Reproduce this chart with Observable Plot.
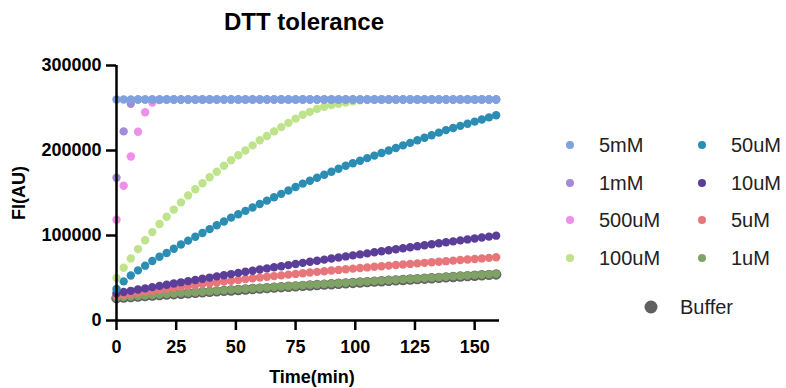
<!DOCTYPE html>
<html>
<head>
<meta charset="utf-8">
<script src="https://cdn.jsdelivr.net/npm/d3@7"></script>
<script src="https://cdn.jsdelivr.net/npm/@observablehq/plot@0.6"></script>
<style>
  html, body { margin: 0; padding: 0; background: #fff; }
  #wrap { position: relative; width: 786px; height: 388px; overflow: hidden; font-family: "Liberation Sans", Arial, sans-serif; }
  .lg { position: absolute; font-size: 20px; color: #222; line-height: 22px; transform: translateY(-50%); white-space: nowrap; }
  .ld { position: absolute; border-radius: 50%; transform: translate(-50%, -50%); }
</style>
</head>
<body>
<div id="wrap"></div>
<script>
const time = [0,3,6,9,12,15,18,21,24,27,30,33,36,39,42,45,48,51,54,57,60,63,66,69,72,75,78,81,84,87,90,93,96,99,102,105,108,111,114,117,120,123,126,129,132,135,138,141,144,147,150,153,156,159];

const s5mM = [260000,260000,260000,260000,260000,260000,260000,260000,260000,260000,260000,260000,260000,260000,260000,260000,260000,260000,260000,260000,260000,260000,260000,260000,260000,260000,260000,260000,260000,260000,260000,260000,260000,260000,260000,260000,260000,260000,260000,260000,260000,260000,260000,260000,260000,260000,260000,260000,260000,260000,260000,260000,260000,260000];
const s1mM = [168000,222500,255000,260000,260000,260000,260000,260000,260000,260000,260000,260000,260000,260000,260000,260000,260000,260000,260000,260000,260000,260000,260000,260000,260000,260000,260000,260000,260000,260000,260000,260000,260000,260000,260000,260000,260000,260000,260000,260000,260000,260000,260000,260000,260000,260000,260000,260000,260000,260000,260000,260000,260000,260000];
const s500uM = [118500,158500,193000,222000,245000,256500,259500,260000,260000,260000,260000,260000,260000,260000,260000,260000,260000,260000,260000,260000,260000,260000,260000,260000,260000,260000,260000,260000,260000,260000,260000,260000,260000,260000,260000,260000,260000,260000,260000,260000,260000,260000,260000,260000,260000,260000,260000,260000,260000,260000,260000,260000,260000,260000];
const s100uM = [50000,62000,73000,84000,94500,104000,113500,122000,130500,139000,147000,154500,161500,168500,175000,182000,188500,194500,200000,206000,212000,217000,222500,227500,232500,237500,242000,245500,249000,251500,253500,255000,256500,258000,259000,260000,260000,260000,260000,260000,260000,260000,260000,260000,260000,260000,260000,260000,260000,260000,260000,260000,260000,260000];
const s50uM = [37000,46000,53000,59000,64500,70000,75000,79500,84500,89500,94000,98500,103000,107500,112000,116500,121000,125000,129000,133000,137000,141000,145000,149000,153000,157000,161000,164500,168000,171500,175000,178500,182000,185000,188000,191000,194000,197000,200000,203000,206000,209000,212000,215000,218000,221000,224000,226500,229000,231500,234000,236500,239000,241500];
const s10uM = [32000,33500,34900,36400,37800,39300,40700,42100,43500,44900,46300,47700,49100,50500,51900,53200,54600,56000,57300,58600,60000,61300,62600,63900,65200,66500,67800,69100,70300,71600,72900,74100,75400,76600,77800,79000,80300,81500,82700,83900,85000,86200,87400,88600,89700,90900,92000,93100,94300,95400,96500,97600,98700,99800];
const s5uM = [29000,30250,31500,32700,33900,35100,36250,37400,38500,39600,40700,41750,42800,43800,44800,45800,46800,47750,48700,49600,50500,51400,52250,53100,53950,54800,55600,56400,57200,58000,58750,59500,60250,61000,61750,62450,63150,63850,64550,65250,65900,66550,67200,67850,68500,69150,69800,70450,71100,71750,72400,73050,73700,74400];
const s1uM = [27000,27600,28200,28800,29400,30000,30550,31100,31650,32200,32750,33300,33850,34400,34950,35500,36050,36600,37150,37700,38250,38800,39350,39900,40400,40900,41400,41900,42400,42900,43400,43900,44400,44900,45400,45900,46400,46900,47400,47900,48400,48900,49400,49900,50400,50900,51400,51900,52400,52900,53400,53900,54400,54900];
const sBuffer = [26300,26900,27500,28100,28700,29300,29850,30400,30950,31500,32050,32600,33150,33700,34250,34800,35350,35900,36450,37000,37550,38100,38650,39200,39700,40200,40700,41200,41700,42200,42700,43200,43700,44200,44700,45200,45700,46200,46700,47200,47700,48200,48700,49200,49700,50200,50700,51200,51700,52200,52700,53200,53700,54200];

const seriesNames = ["5mM","1mM","500uM","100uM","50uM","10uM","5uM","1uM","Buffer"];
const seriesValues = [s5mM, s1mM, s500uM, s100uM, s50uM, s10uM, s5uM, s1uM, sBuffer];
const seriesColors = ["#7ea2df","#a48bd7","#ee8fe9","#bfe38b","#2b8db3","#5b3e99","#e7767b","#81a266","#606060"];

const xTicks = [0,25,50,75,100,125,150];
const yTicks = [0,100000,200000,300000];

const titleText = "DTT tolerance";
const xLabel = "Time(min)";
const yLabel = "FI(AU)";

// draw order: buffer first, 5mM last (on top)
const dotMarks = [];
for (let i = seriesNames.length - 1; i >= 0; i--) {
  const rows = time.map((t, j) => ({t, v: seriesValues[i][j]}));
  const isBuffer = seriesNames[i] === "Buffer";
  dotMarks.push(Plot.dot(rows, {x: "t", y: "v", r: isBuffer ? 5.2 : 4.2, fill: seriesColors[i], stroke: "none"}));
}

const chart = Plot.plot({
  width: 786,
  height: 388,
  marginLeft: 116,
  marginRight: 287,
  marginTop: 65,
  marginBottom: 68,
  style: {fontFamily: "'Liberation Sans', Arial, sans-serif", color: "#000", background: "transparent"},
  x: {domain: [0, 160.4]},
  y: {domain: [0, 300000]},
  marks: [
    ...dotMarks,
    Plot.ruleX([0], {y1: 0, y2: 300000, stroke: "#000", strokeWidth: 2.5}),
    Plot.ruleY([0], {x1: 0, x2: 160.4, stroke: "#000", strokeWidth: 2.5}),
    Plot.axisX({ticks: xTicks, tickSize: 10, tickPadding: 10, fontSize: 18, fontWeight: "bold", strokeWidth: 2.5, label: null, tickFormat: d => String(d)}),
    Plot.axisY({ticks: yTicks, tickSize: 10, tickPadding: 5, fontSize: 18, fontWeight: "bold", strokeWidth: 2.5, label: null, tickFormat: d => String(d)}),
    Plot.text([titleText], {frameAnchor: "top", dy: -43, dx: -4, textAnchor: "middle", lineAnchor: "middle", fontSize: 24, fontWeight: "bold", fill: "#000"}),
    Plot.text([xLabel], {frameAnchor: "bottom", dy: 57, dx: 4, textAnchor: "middle", lineAnchor: "middle", fontSize: 18, fontWeight: "bold", fill: "#000"}),
    Plot.text([yLabel], {frameAnchor: "left", dx: -97, textAnchor: "middle", lineAnchor: "middle", rotate: -90, fontSize: 18, fontWeight: "bold", fill: "#000"})
  ]
});

const wrap = document.getElementById("wrap");
wrap.appendChild(chart);

// legend (HTML overlay)
const legendPos = [
  [570, 145], [570, 183], [570, 220], [570, 258],
  [702, 145], [702, 183], [702, 220], [702, 258],
  [651, 307]
];
seriesNames.forEach((name, i) => {
  const [x, y] = legendPos[i];
  const isBuffer = name === "Buffer";
  const d = document.createElement("div");
  d.className = "ld";
  const sz = isBuffer ? 13 : 8;
  d.style.cssText = `left:${x}px;top:${y}px;width:${sz}px;height:${sz}px;background:${seriesColors[i]};`;
  wrap.appendChild(d);
  const t = document.createElement("div");
  t.className = "lg";
  t.style.left = (x + 29) + "px";
  t.style.top = y + "px";
  t.textContent = name;
  wrap.appendChild(t);
});
</script>
</body>
</html>
